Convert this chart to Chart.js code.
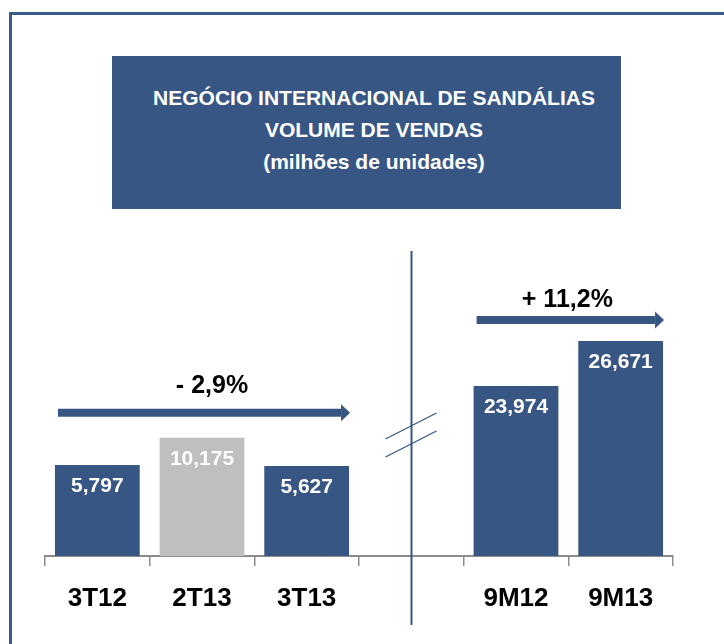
<!DOCTYPE html>
<html>
<head>
<meta charset="utf-8">
<script src="https://cdn.jsdelivr.net/npm/chart.js@4.4.0/dist/chart.umd.min.js"></script>
<style>
    html, body { margin: 0; padding: 0; background: #fff; }
    #wrap { position: relative; width: 724px; height: 644px; overflow: hidden; font-family: 'Liberation Sans', Arial, sans-serif; }
    #frame { position: absolute; left: 9px; top: 12px; right: -10px; bottom: -10px; border-top: 3px solid #3a5a8a; border-left: 3px solid #3a5a8a; }
    #title-box {
        position: absolute; left: 112px; top: 56px; width: 509px; height: 153px;
        box-sizing: border-box; padding-top: 26px; padding-left: 15px;
        background: #385684; color: #fff; text-align: center;
        font-weight: bold; font-size: 21px; line-height: 32px;
    }
    canvas { position: absolute; left: 0; top: 0; }
</style>
</head>
<body>
<div id="wrap">
    <div id="frame"></div>
    <canvas id="chart" width="724" height="644"></canvas>
    <div id="title-box">
        NEGÓCIO INTERNACIONAL DE SANDÁLIAS<br>
        VOLUME DE VENDAS<br>
        (milhões de unidades)
    </div>
</div>
<script>
const categories = ['3T12', '2T13', '3T13', '', '9M12', '9M13'];
const quarterSales = [5797, 10175, 5627, null, null, null];
const nineMonthSales = [null, null, null, null, 23974, 26671];
const changeLabels = ['- 2,9%', '+ 11,2%'];
const changeSpans = [[0, 2], [4, 5]];

const BLUE = '#385684';
const GRAY = '#bfbfbf';
const AXIS = '#8c8c8c';
const FONT = "'Liberation Sans', Arial, sans-serif";

// the picture uses a broken axis, so each group gets its own hidden scale
const quarterScale = { min: -8800, max: 41900 };
const nineMonthScale = { min: 13785, max: 32724 };

const decorations = {
    id: 'decorations',
    afterDraw(chart) {
        const ctx = chart.ctx;
        const x = chart.scales.x;
        const bottom = chart.chartArea.bottom;
        const bars = i => {
            const ds = quarterSales[i] != null ? 0 : 1;
            return chart.getDatasetMeta(ds).data[i];
        };

        ctx.save();

        // values inside the bars
        ctx.fillStyle = '#fff';
        ctx.font = 'bold 21px ' + FONT;
        ctx.textAlign = 'center';
        ctx.textBaseline = 'middle';
        categories.forEach((c, i) => {
            const v = quarterSales[i] != null ? quarterSales[i] : nineMonthSales[i];
            if (v == null) return;
            const b = bars(i);
            ctx.fillText(v.toLocaleString('en-US'), b.x, b.y + 21);
        });

        // divider with break marks
        const dx = Math.round(x.getPixelForValue(3)) + 0.5;
        ctx.strokeStyle = BLUE;
        ctx.lineWidth = 2;
        ctx.beginPath();
        ctx.moveTo(dx, bottom - 305);
        ctx.lineTo(dx, bottom + 69);
        ctx.stroke();
        ctx.lineWidth = 1.3;
        [117, 99].forEach(off => {
            ctx.beginPath();
            ctx.moveTo(dx - 26, bottom - off);
            ctx.lineTo(dx + 25, bottom - off - 26);
            ctx.stroke();
        });

        // variation arrows
        const lifts = [{ arrow: 25, text: 27, nudge: 8 }, { arrow: 21, text: 20, nudge: -3 }];
        changeSpans.forEach(([a, z], k) => {
            const first = bars(a), last = bars(z);
            let top = Infinity;
            for (let i = a; i <= z; i++) top = Math.min(top, bars(i).y);
            const y = top - lifts[k].arrow;
            const x1 = first.x - first.width / 2 + 3;
            const x2 = last.x + last.width / 2 + 1;
            ctx.fillStyle = BLUE;
            ctx.fillRect(x1, y - 4, x2 - 9 - x1, 8);
            ctx.beginPath();
            ctx.moveTo(x2 - 9, y - 8.5);
            ctx.lineTo(x2, y);
            ctx.lineTo(x2 - 9, y + 8.5);
            ctx.closePath();
            ctx.fill();

            ctx.fillStyle = '#000';
            ctx.font = 'bold 25px ' + FONT;
            ctx.fillText(changeLabels[k], (x1 + x2) / 2 + lifts[k].nudge, y - lifts[k].text);
        });

        ctx.restore();
    }
};

new Chart(document.getElementById('chart'), {
    type: 'bar',
    data: {
        labels: categories,
        datasets: [
            {
                data: quarterSales,
                yAxisID: 'yQ',
                base: quarterScale.min,
                backgroundColor: [BLUE, GRAY, BLUE, BLUE, BLUE, BLUE],
                grouped: false
            },
            {
                data: nineMonthSales,
                yAxisID: 'yM',
                base: nineMonthScale.min,
                backgroundColor: BLUE,
                grouped: false
            }
        ]
    },
    options: {
        responsive: false,
        animation: false,
        devicePixelRatio: 1,
        layout: { padding: { left: 45, right: 51, top: 240, bottom: 18 } },
        datasets: { bar: { categoryPercentage: 1, barPercentage: 0.81, borderWidth: 0 } },
        plugins: {
            legend: { display: false },
            tooltip: { enabled: false }
        },
        scales: {
            x: {
                offset: true,
                grid: {
                    offset: true,
                    drawOnChartArea: false,
                    tickLength: 10,
                    color: AXIS,
                    lineWidth: 1.5
                },
                border: { display: true, color: AXIS, width: 2 },
                ticks: {
                    color: '#000',
                    padding: 17,
                    maxRotation: 0,
                    autoSkip: false,
                    font: { family: FONT, size: 26, weight: 'bold' }
                },
                afterFit(scale) { scale.height = 70; }
            },
            yQ: { display: false, min: quarterScale.min, max: quarterScale.max },
            yM: { display: false, min: nineMonthScale.min, max: nineMonthScale.max }
        }
    },
    plugins: [decorations]
});
</script>
</body>
</html>
